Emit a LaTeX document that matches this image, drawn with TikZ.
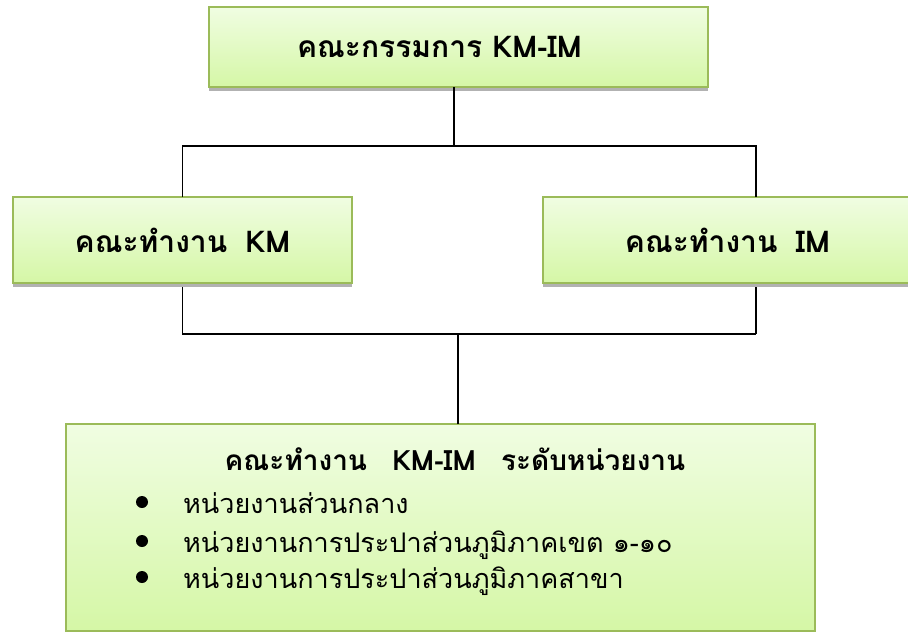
\documentclass[tikz,border=0pt]{standalone}
\usepackage{fontspec}
\setmainfont[Script=Thai]{Loma}
\usetikzlibrary{shadows}

\definecolor{boxline}{RGB}{155,187,89}
\definecolor{boxtop}{RGB}{240,253,226}
\definecolor{boxbottom}{RGB}{213,247,166}

\tikzset{
	box/.style={draw=boxline, line width=1.5pt, top color=boxtop, bottom color=boxbottom,
		inner sep=0pt, outer sep=0pt, font=\bfseries\fontsize{30}{34}\selectfont},
	shadowbox/.style={box, drop shadow={shadow xshift=0pt, shadow yshift=-4pt, fill=gray!60, opacity=1}},
	link/.style={line width=1.6pt, black},
	dot/.style={circle, fill=black, inner sep=0pt, minimum size=12pt}
}

\begin{document}
\begin{tikzpicture}[x=1pt, y=-1pt]
\useasboundingbox (0, 0) rectangle (908, 632);

\node[shadowbox, minimum width=499pt, minimum height=80pt] (board) at (458.5, 47) {คณะกรรมการ KM-IM\hspace*{38pt}};
\node[shadowbox, minimum width=339pt, minimum height=86pt] (km) at (182.5, 240) {คณะทำงาน\hspace{0.6em}KM};
\node[shadowbox, minimum width=369pt, minimum height=86pt] (im) at (727.5, 240) {คณะทำงาน\hspace{0.6em}IM};
\node[box, minimum width=749pt, minimum height=207pt] (unit) at (440.5, 527.5) {};

\coordinate (topjoin) at (454, 146);
\coordinate (upright) at (756, 146);
\coordinate (lowright) at (756, 334);
\coordinate (lowjoin) at (458, 334);

\draw[link] (board.south -| topjoin) -- (topjoin);
\draw[link] (km.north) |- (upright) -- (upright |- im.north);
\draw[link, shorten <=4pt] (km.south) |- (lowright);
\draw[link, shorten >=4pt] (lowright) -- (lowright |- im.south);
\draw[link] (unit.north -| lowjoin) -- (lowjoin);

\node[anchor=base, inner sep=0pt, font=\bfseries\fontsize{28}{32}\selectfont] (unittitle) at (455, 470) {คณะทำงาน\hspace{0.9em}KM-IM\hspace{0.9em}ระดับหน่วยงาน};
\foreach \n/\y/\text in {
	1/513/หน่วยงานส่วนกลาง,
	2/552/หน่วยงานการประปาส่วนภูมิภาคเขต ๑-๑๐,
	3/588/หน่วยงานการประปาส่วนภูมิภาคสาขา}
{
\node[dot] (dot\n) at (142, \y-11) {};
\node[anchor=base west, inner sep=0pt, font=\fontsize{27}{31}\selectfont] (item\n) at (183, \y) {\text};
}

\end{tikzpicture}
\end{document}
